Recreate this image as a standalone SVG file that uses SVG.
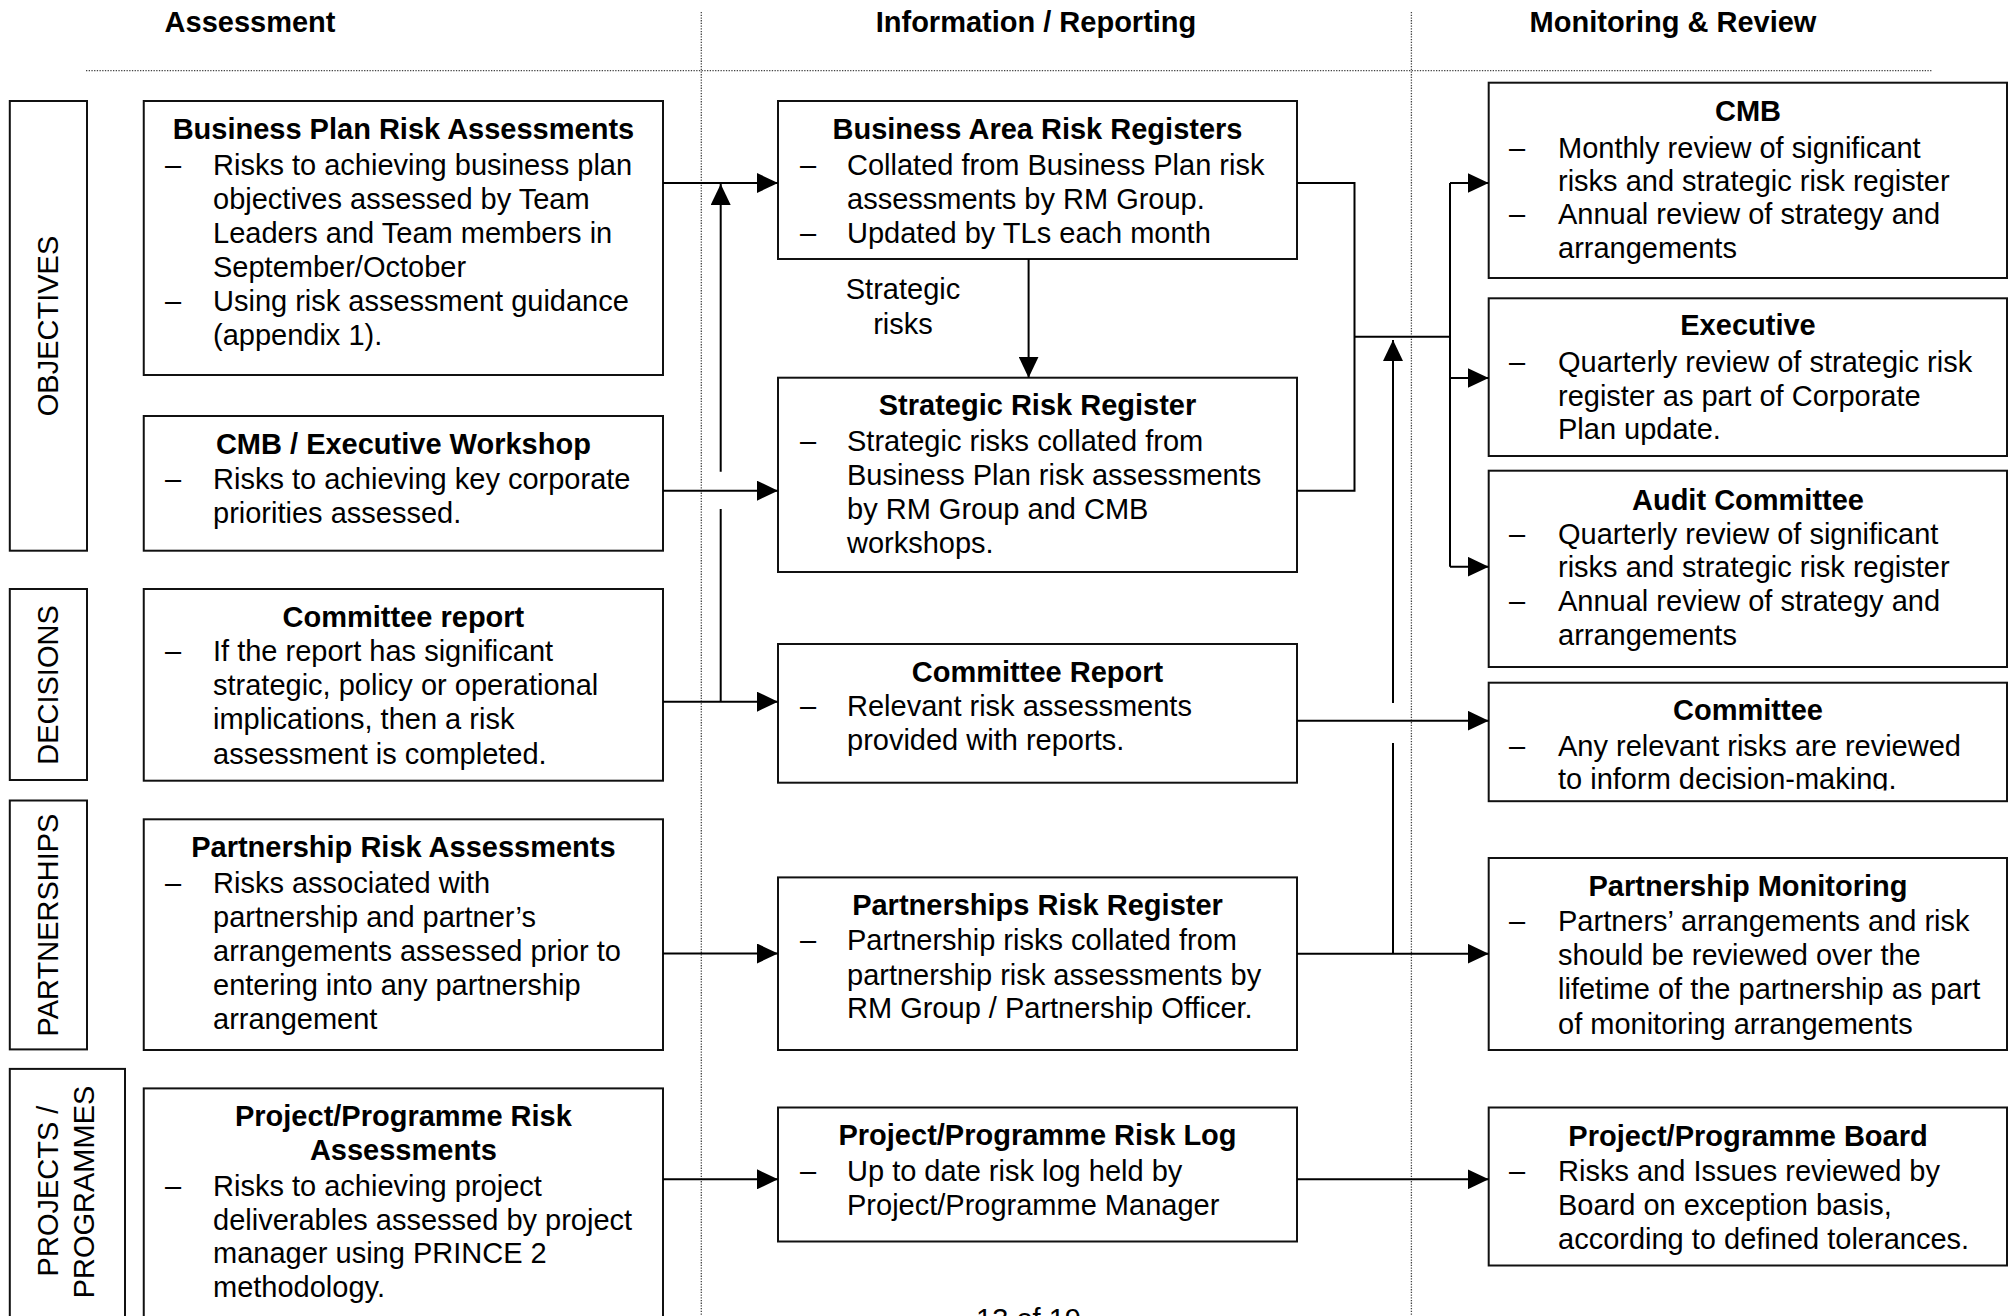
<svg xmlns="http://www.w3.org/2000/svg" width="2013" height="1316" viewBox="0 0 2013 1316">
<style>
  text { font-family: "Liberation Sans", Arial, Helvetica, sans-serif; font-size: 29px; fill: #000; }
  .t { font-weight: bold; text-anchor: middle; }
  .h { font-weight: bold; text-anchor: middle; }
  .c { text-anchor: middle; }
  .box { fill: #fff; stroke: #111; stroke-width: 2; }
  .guide { fill: none; stroke: #444; stroke-width: 1.3; stroke-dasharray: 1.3 1.4; }
  .conn { fill: none; stroke: #000; stroke-width: 2; }
  .arr { marker-end: url(#ah); }
</style>
<defs>
  <marker id="ah" viewBox="0 0 21 20" refX="21" refY="10" markerWidth="21" markerHeight="20" markerUnits="userSpaceOnUse" orient="auto">
    <path d="M0,0 L21,10 L0,20 z" fill="#000"/>
  </marker>
  <clipPath id="clipCommittee"><rect x="1488" y="682" width="520" height="108.5"/></clipPath>
</defs>
<rect x="0" y="0" width="2013" height="1316" fill="#fff"/>

<g id="guides">
  <path class="guide" d="M86,70.7 H1932"/>
  <path class="guide" d="M701.3,12 V1316"/>
  <path class="guide" d="M1411.4,12 V1316"/>
</g>

<g id="headers">
  <text class="h" x="250" y="32">Assessment</text>
  <text class="h" x="1036" y="32">Information / Reporting</text>
  <text class="h" x="1673" y="32">Monitoring &amp; Review</text>
</g>

<g id="lane-objectives">
  <rect class="box" x="9.8" y="101" width="77.2" height="449.7"/>
  <text class="c" transform="translate(58,326) rotate(-90)">OBJECTIVES</text>
</g>
<g id="lane-decisions">
  <rect class="box" x="9.8" y="589" width="77.2" height="191"/>
  <text class="c" transform="translate(58,685) rotate(-90)">DECISIONS</text>
</g>
<g id="lane-partnerships">
  <rect class="box" x="9.8" y="800.5" width="77.2" height="248.9"/>
  <text class="c" transform="translate(58,925) rotate(-90)">PARTNERSHIPS</text>
</g>
<g id="lane-projects">
  <rect class="box" x="9.8" y="1068.9" width="115.2" height="270"/>
  <text class="c" transform="translate(58,1191) rotate(-90)">PROJECTS /</text>
  <text class="c" transform="translate(93.75,1192) rotate(-90)">PROGRAMMES</text>
</g>

<!-- Left column -->
<g id="bp-risk-assessments">
  <rect class="box" x="143.75" y="101" width="519.25" height="274"/>
  <text class="t" x="403.4" y="138.5">Business Plan Risk Assessments</text>
  <text x="165" y="175">–</text>
  <text x="213" y="175">Risks to achieving business plan</text>
  <text x="213" y="209">objectives assessed by Team</text>
  <text x="213" y="243">Leaders and Team members in</text>
  <text x="213" y="277">September/October</text>
  <text x="165" y="311">–</text>
  <text x="213" y="311">Using risk assessment guidance</text>
  <text x="213" y="345">(appendix 1).</text>
</g>
<g id="cmb-exec-workshop">
  <rect class="box" x="143.75" y="416" width="519.25" height="134.7"/>
  <text class="t" x="403.4" y="454">CMB / Executive Workshop</text>
  <text x="165" y="488.5">–</text>
  <text x="213" y="488.5">Risks to achieving key corporate</text>
  <text x="213" y="522.5">priorities assessed.</text>
</g>
<g id="committee-report-left">
  <rect class="box" x="143.75" y="589" width="519.25" height="191.7"/>
  <text class="t" x="403.4" y="626.5">Committee report</text>
  <text x="165" y="660.5">–</text>
  <text x="213" y="660.5">If the report has significant</text>
  <text x="213" y="695">strategic, policy or operational</text>
  <text x="213" y="729">implications, then a risk</text>
  <text x="213" y="763.5">assessment is completed.</text>
</g>
<g id="partnership-risk-assessments">
  <rect class="box" x="143.75" y="819.3" width="519.25" height="230.7"/>
  <text class="t" x="403.4" y="857">Partnership Risk Assessments</text>
  <text x="165" y="893">–</text>
  <text x="213" y="893">Risks associated with</text>
  <text x="213" y="927">partnership and partner’s</text>
  <text x="213" y="961">arrangements assessed prior to</text>
  <text x="213" y="994.5">entering into any partnership</text>
  <text x="213" y="1028.5">arrangement</text>
</g>
<g id="project-risk-assessments">
  <rect class="box" x="143.75" y="1088.4" width="519.25" height="260"/>
  <text class="t" x="403.4" y="1126">Project/Programme Risk</text>
  <text class="t" x="403.4" y="1160">Assessments</text>
  <text x="165" y="1195.5">–</text>
  <text x="213" y="1195.5">Risks to achieving project</text>
  <text x="213" y="1229.5">deliverables assessed by project</text>
  <text x="213" y="1262.5">manager using PRINCE 2</text>
  <text x="213" y="1296.5">methodology.</text>
</g>

<!-- Middle column -->
<g id="business-area-registers">
  <rect class="box" x="778" y="101" width="519" height="158"/>
  <text class="t" x="1037.5" y="138.5">Business Area Risk Registers</text>
  <text x="800" y="174.5">–</text>
  <text x="847" y="174.5">Collated from Business Plan risk</text>
  <text x="847" y="208.5">assessments by RM Group.</text>
  <text x="800" y="243">–</text>
  <text x="847" y="243">Updated by TLs each month</text>
</g>
<g id="strategic-risk-register">
  <rect class="box" x="778" y="377.7" width="519" height="194.3"/>
  <text class="t" x="1037.5" y="414.5">Strategic Risk Register</text>
  <text x="800" y="450.5">–</text>
  <text x="847" y="450.5">Strategic risks collated from</text>
  <text x="847" y="484.5">Business Plan risk assessments</text>
  <text x="847" y="518.5">by RM Group and CMB</text>
  <text x="847" y="552.5">workshops.</text>
</g>
<g id="committee-report-mid">
  <rect class="box" x="778" y="644" width="519" height="138.7"/>
  <text class="t" x="1037.5" y="681.5">Committee Report</text>
  <text x="800" y="715.5">–</text>
  <text x="847" y="715.5">Relevant risk assessments</text>
  <text x="847" y="750">provided with reports.</text>
</g>
<g id="partnerships-risk-register">
  <rect class="box" x="778" y="877.4" width="519" height="172.6"/>
  <text class="t" x="1037.5" y="914.5">Partnerships Risk Register</text>
  <text x="800" y="950">–</text>
  <text x="847" y="950">Partnership risks collated from</text>
  <text x="847" y="984.5">partnership risk assessments by</text>
  <text x="847" y="1018">RM Group / Partnership Officer.</text>
</g>
<g id="project-risk-log">
  <rect class="box" x="778" y="1107.5" width="519" height="134"/>
  <text class="t" x="1037.5" y="1145">Project/Programme Risk Log</text>
  <text x="800" y="1180.5">–</text>
  <text x="847" y="1180.5">Up to date risk log held by</text>
  <text x="847" y="1214.5">Project/Programme Manager</text>
</g>

<!-- Right column -->
<g id="cmb">
  <rect class="box" x="1488.7" y="82.7" width="518.3" height="195.3"/>
  <text class="t" x="1748" y="120.5">CMB</text>
  <text x="1509" y="157.5">–</text>
  <text x="1558" y="157.5">Monthly review of significant</text>
  <text x="1558" y="190.5">risks and strategic risk register</text>
  <text x="1509" y="224">–</text>
  <text x="1558" y="224">Annual review of strategy and</text>
  <text x="1558" y="257.5">arrangements</text>
</g>
<g id="executive">
  <rect class="box" x="1488.7" y="298.3" width="518.3" height="157.7"/>
  <text class="t" x="1748" y="334.5">Executive</text>
  <text x="1509" y="372">–</text>
  <text x="1558" y="372">Quarterly review of strategic risk</text>
  <text x="1558" y="405.5">register as part of Corporate</text>
  <text x="1558" y="438.5">Plan update.</text>
</g>
<g id="audit-committee">
  <rect class="box" x="1488.7" y="470.7" width="518.3" height="196.3"/>
  <text class="t" x="1748" y="509.5">Audit Committee</text>
  <text x="1509" y="543.5">–</text>
  <text x="1558" y="543.5">Quarterly review of significant</text>
  <text x="1558" y="577">risks and strategic risk register</text>
  <text x="1509" y="611">–</text>
  <text x="1558" y="611">Annual review of strategy and</text>
  <text x="1558" y="645">arrangements</text>
</g>
<g id="committee">
  <rect class="box" x="1488.7" y="682.7" width="518.3" height="118.5"/>
  <g clip-path="url(#clipCommittee)">
    <text class="t" x="1748" y="719.5">Committee</text>
    <text x="1509" y="755.5">–</text>
    <text x="1558" y="755.5">Any relevant risks are reviewed</text>
    <text x="1558" y="788.5">to inform decision-making.</text>
  </g>
</g>
<g id="partnership-monitoring">
  <rect class="box" x="1488.7" y="858" width="518.3" height="192"/>
  <text class="t" x="1748" y="895.5">Partnership Monitoring</text>
  <text x="1509" y="931">–</text>
  <text x="1558" y="931">Partners’ arrangements and risk</text>
  <text x="1558" y="965">should be reviewed over the</text>
  <text x="1558" y="999">lifetime of the partnership as part</text>
  <text x="1558" y="1033.5">of monitoring arrangements</text>
</g>
<g id="project-board">
  <rect class="box" x="1488.7" y="1107.5" width="518.3" height="158"/>
  <text class="t" x="1748" y="1146">Project/Programme Board</text>
  <text x="1509" y="1180.5">–</text>
  <text x="1558" y="1180.5">Risks and Issues reviewed by</text>
  <text x="1558" y="1214.5">Board on exception basis,</text>
  <text x="1558" y="1248.5">according to defined tolerances.</text>
</g>

<g id="connectors">
  <path class="conn arr" d="M663,183 H778"/>
  <path class="conn arr" d="M663,490.7 H778"/>
  <path class="conn arr" d="M663,701.7 H778"/>
  <path class="conn arr" d="M720.7,471.7 V184"/>
  <path class="conn" d="M720.7,701.7 V509"/>
  <path class="conn arr" d="M663,953.5 H778"/>
  <path class="conn arr" d="M663,1179.3 H778"/>
  <path class="conn arr" d="M1028.6,259 V377.7"/>
  <path class="conn" d="M1297,183 H1354.5 V490.7 H1297"/>
  <path class="conn" d="M1354.5,336.7 H1450"/>
  <path class="conn" d="M1450,183 V566.7"/>
  <path class="conn arr" d="M1450,183 H1488.7"/>
  <path class="conn arr" d="M1450,378 H1488.7"/>
  <path class="conn arr" d="M1450,566.7 H1488.7"/>
  <path class="conn arr" d="M1297,720.7 H1488.7"/>
  <path class="conn arr" d="M1297,953.7 H1488.7"/>
  <path class="conn" d="M1393,953.7 V743"/>
  <path class="conn arr" d="M1393,703 V340"/>
  <path class="conn arr" d="M1297,1179.3 H1488.7"/>
  <text class="c" x="903" y="299">Strategic</text>
  <text class="c" x="903" y="334">risks</text>
</g>

<text class="c" x="1028.5" y="1329">13 of 19</text>
</svg>
